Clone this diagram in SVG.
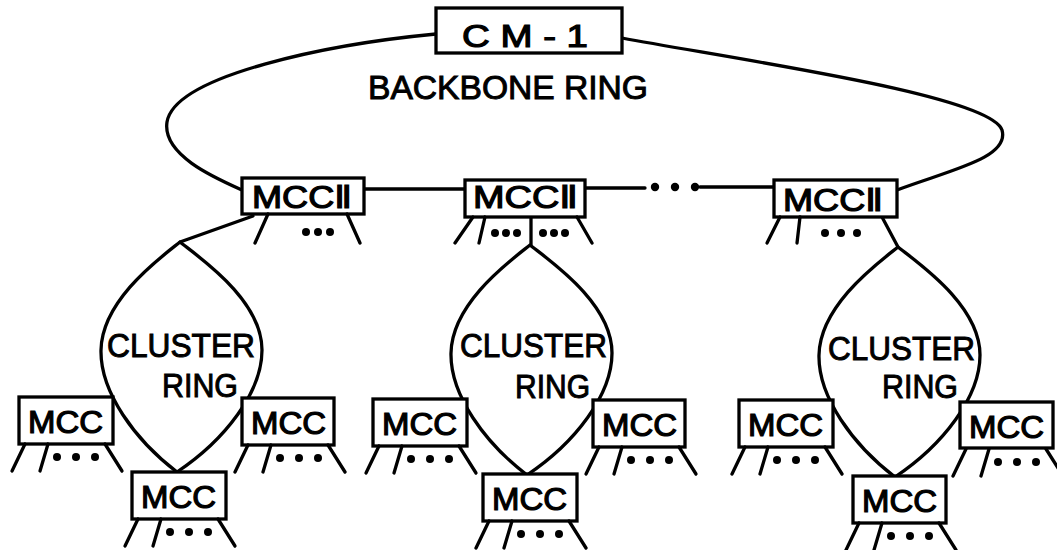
<svg xmlns="http://www.w3.org/2000/svg" xmlns:xlink="http://www.w3.org/1999/xlink" width="1057" height="550" viewBox="0 0 1057 550">
  <style>
    .line { fill: none; stroke: #000; stroke-width: 3.3; stroke-linecap: round; stroke-linejoin: round; }
    .box { fill: #fff; stroke: #000; stroke-width: 3.3; }
    .lbl { font-family: "Liberation Sans", Arial, sans-serif; font-size: 32px; fill: #000; stroke: #000; stroke-width: 1.2; }
    .ring-lbl { font-family: "Liberation Sans", Arial, sans-serif; font-size: 34px; fill: #000; stroke: #000; stroke-width: 1; }
    .num { font-family: "DejaVu Sans", sans-serif; }
    .dot { fill: #000; }
  </style>
  <defs>
    <!-- outgoing lines and ellipsis under an MCC box (94 x 47) -->
    <g id="legs">
      <path class="line" d="M6,47 L-7,74 M29,47 L21,74 M86,47 L103,74"/>
      <circle class="dot" cx="38" cy="60" r="4"/>
      <circle class="dot" cx="57" cy="60" r="4"/>
      <circle class="dot" cx="76" cy="60" r="4"/>
    </g>
    <!-- lens-shaped cluster ring, top apex at (180,242) -->
    <path id="cluster-ring" class="line" d="M180,242 C160,258 102,300 101,350 C100,392 135,440 177,472 C225,440 262,392 262,350 C262,300 200,258 180,242 Z"/>
  </defs>

  <rect width="1057" height="550" fill="#fff"/>

  <g id="connectors">
    <!-- backbone ring -->
    <path class="line" d="M436,34 C330,44 175,75 167,122 C162,155 215,178 242,190"/>
    <path class="line" d="M622,38 C740,60 990,95 1002,130 C1010,158 950,170 897,190"/>
    <path class="line" d="M364,189 L465,189 M585,188 L645,188 M700,187 L774,187"/>
    <circle class="dot" cx="655" cy="187" r="4.2"/>
    <circle class="dot" cx="675" cy="187" r="4.2"/>
    <circle class="dot" cx="695" cy="187" r="4.2"/>
    <!-- cluster rings -->
    <use xlink:href="#cluster-ring"/>
    <use xlink:href="#cluster-ring" transform="translate(350,3)"/>
    <use xlink:href="#cluster-ring" transform="translate(718,5)"/>
    <!-- MCC II to cluster ring links -->
    <path class="line" d="M253,216 L180,242"/>
    <path class="line" d="M531,217 L531,245"/>
    <path class="line" d="M882,217 L898,247"/>
  </g>

  <text class="ring-lbl" x="368" y="99" textLength="280" lengthAdjust="spacingAndGlyphs">BACKBONE RING</text>

  <g id="cm1">
    <rect class="box" x="436" y="8" width="186" height="45"/>
    <text class="lbl" x="462" y="47" font-size="31" textLength="126" lengthAdjust="spacingAndGlyphs">C M - 1</text>
  </g>

  <g id="mcc2-left">
    <rect class="box" x="242" y="178" width="122" height="36"/>
    <text class="lbl" x="252" y="208" textLength="100" lengthAdjust="spacingAndGlyphs">MCC<tspan class="num">Ⅱ</tspan></text>
    <path class="line" d="M268,214 L255,243 M347,214 L360,243"/>
    <circle class="dot" cx="306" cy="232" r="4"/>
    <circle class="dot" cx="318" cy="232" r="4"/>
    <circle class="dot" cx="330" cy="232" r="4"/>
  </g>

  <g id="mcc2-mid">
    <rect class="box" x="465" y="180" width="120" height="37"/>
    <text class="lbl" x="473" y="208" textLength="105" lengthAdjust="spacingAndGlyphs">MCC<tspan class="num">Ⅱ</tspan></text>
    <path class="line" d="M473,217 L455,243 M485,217 L479,243 M577,217 L592,243"/>
    <circle class="dot" cx="495" cy="233" r="4"/>
    <circle class="dot" cx="506" cy="233" r="4"/>
    <circle class="dot" cx="517" cy="233" r="4"/>
    <circle class="dot" cx="543" cy="233" r="4"/>
    <circle class="dot" cx="554" cy="233" r="4"/>
    <circle class="dot" cx="565" cy="233" r="4"/>
  </g>

  <g id="mcc2-right">
    <rect class="box" x="774" y="180" width="123" height="37"/>
    <text class="lbl" x="783" y="211" textLength="100" lengthAdjust="spacingAndGlyphs">MCC<tspan class="num">Ⅱ</tspan></text>
    <path class="line" d="M780,217 L767,243 M800,217 L797,243"/>
    <circle class="dot" cx="825" cy="233" r="4"/>
    <circle class="dot" cx="841" cy="233" r="4"/>
    <circle class="dot" cx="857" cy="233" r="4"/>
  </g>

  <!-- cluster labels -->
  <text class="ring-lbl" x="107" y="357" textLength="148" lengthAdjust="spacingAndGlyphs">CLUSTER</text>
  <text class="ring-lbl" x="162" y="397" textLength="76" lengthAdjust="spacingAndGlyphs">RING</text>
  <text class="ring-lbl" x="460" y="357" textLength="147" lengthAdjust="spacingAndGlyphs">CLUSTER</text>
  <text class="ring-lbl" x="515" y="398" textLength="75" lengthAdjust="spacingAndGlyphs">RING</text>
  <text class="ring-lbl" x="828" y="360" textLength="147" lengthAdjust="spacingAndGlyphs">CLUSTER</text>
  <text class="ring-lbl" x="882" y="398" textLength="76" lengthAdjust="spacingAndGlyphs">RING</text>

  <!-- MCC nodes of the left cluster -->
  <g id="mcc-l-left" transform="translate(19,397)">
    <rect class="box" width="94" height="47"/>
    <text class="lbl" x="9" y="36" textLength="75" lengthAdjust="spacingAndGlyphs">MCC</text>
    <use xlink:href="#legs"/>
  </g>
  <g id="mcc-l-right" transform="translate(242,398)">
    <rect class="box" width="92" height="47"/>
    <text class="lbl" x="9" y="36" textLength="75" lengthAdjust="spacingAndGlyphs">MCC</text>
    <use xlink:href="#legs"/>
  </g>
  <g id="mcc-l-bottom" transform="translate(132,472)">
    <rect class="box" width="94" height="47"/>
    <text class="lbl" x="9" y="36" textLength="75" lengthAdjust="spacingAndGlyphs">MCC</text>
    <use xlink:href="#legs"/>
  </g>

  <!-- MCC nodes of the middle cluster -->
  <g id="mcc-m-left" transform="translate(373,399)">
    <rect class="box" width="94" height="47"/>
    <text class="lbl" x="9" y="36" textLength="75" lengthAdjust="spacingAndGlyphs">MCC</text>
    <use xlink:href="#legs"/>
  </g>
  <g id="mcc-m-right" transform="translate(593,400)">
    <rect class="box" width="92" height="47"/>
    <text class="lbl" x="9" y="36" textLength="75" lengthAdjust="spacingAndGlyphs">MCC</text>
    <use xlink:href="#legs"/>
  </g>
  <g id="mcc-m-bottom" transform="translate(483,474)">
    <rect class="box" width="94" height="47"/>
    <text class="lbl" x="9" y="36" textLength="75" lengthAdjust="spacingAndGlyphs">MCC</text>
    <use xlink:href="#legs"/>
  </g>

  <!-- MCC nodes of the right cluster -->
  <g id="mcc-r-left" transform="translate(739,400)">
    <rect class="box" width="94" height="47"/>
    <text class="lbl" x="9" y="36" textLength="75" lengthAdjust="spacingAndGlyphs">MCC</text>
    <use xlink:href="#legs"/>
  </g>
  <g id="mcc-r-right" transform="translate(960,402)">
    <rect class="box" width="93" height="46"/>
    <text class="lbl" x="9" y="36" textLength="75" lengthAdjust="spacingAndGlyphs">MCC</text>
    <use xlink:href="#legs"/>
  </g>
  <g id="mcc-r-bottom" transform="translate(853,476)">
    <rect class="box" width="93" height="47"/>
    <text class="lbl" x="9" y="36" textLength="75" lengthAdjust="spacingAndGlyphs">MCC</text>
    <use xlink:href="#legs"/>
  </g>
</svg>
